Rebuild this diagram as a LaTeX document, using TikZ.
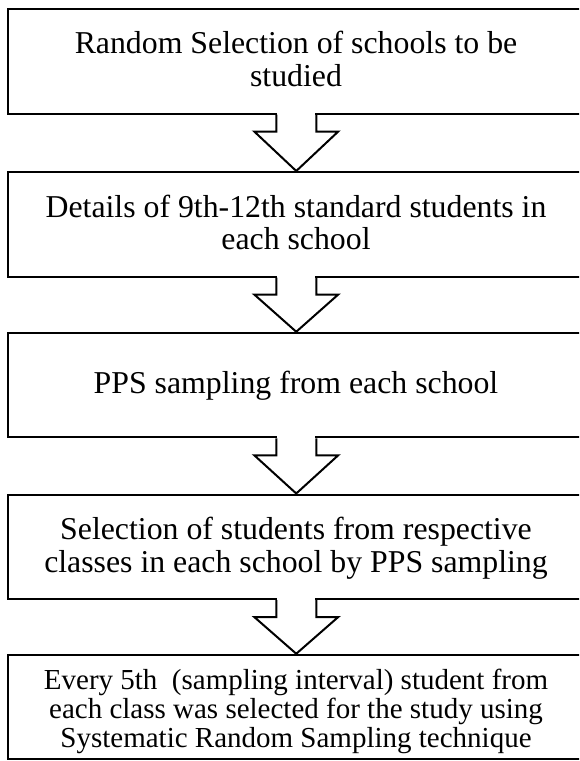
\documentclass[tikz,border=0pt]{standalone}
\usepackage{fontspec}
\setmainfont{Liberation Serif}
\usetikzlibrary{calc}
\newcommand\blockarrow[2]{%
  \fill[white] ($(#1.south)+(-19,-3)$) rectangle ($(#1.south)+(19,3)$);
  \draw[arrowline] ($(#1.south)+(-20,0)$) -- ++(0,17) -- ++(-22,0) -- (#2.north)
     -- ($(#1.south)+(42,17)$) -- ++(-22,0) -- ++(0,-17);
}
\begin{document}
\begin{tikzpicture}[x=1pt,y=-1pt,
  box/.style={draw=black, line width=2pt, rectangle, inner sep=0pt,
              minimum width=577.5pt, minimum height=104.5pt},
  big/.style={font=\fontsize{31.8}{33}\selectfont, inner sep=0pt, anchor=base},
  small/.style={font=\fontsize{29}{29.5}\selectfont, inner sep=0pt, anchor=base},
  arrowline/.style={draw=black, line width=2pt, line join=miter},
]
\clip (0,0) rectangle (579,761);
\fill[white] (0,0) rectangle (579,761);
\node[box] (b1) at (296.25,61.25) {};
\node[box] (b2) at (296.25,224.25) {};
\node[box] (b3) at (296.25,385) {};
\node[box] (b4) at (296.25,546.75) {};
\node[box] (b5) at (296.25,707) {};

\blockarrow{b1}{b2}
\blockarrow{b2}{b3}
\blockarrow{b3}{b4}
\blockarrow{b4}{b5}

\node[big] (t1a) at (296,53) {Random Selection of schools to be};
\node[big] (t1b) at (296,86) {studied};
\node[big] (t2a) at (296,217) {Details of 9th-12th standard students in};
\node[big] (t2b) at (296,249) {each school};
\node[big] (t3a) at (296,393) {PPS sampling from each school};
\node[big] (t4a) at (296,539) {Selection of students from respective};
\node[big] (t4b) at (296,572) {classes in each school by PPS sampling};
\node[small] (t5a) at (296,689) {Every 5th\ \ (sampling interval) student from};
\node[small] (t5b) at (296,718) {each class was selected for the study using};
\node[small] (t5c) at (296,747) {Systematic Random Sampling technique};
\end{tikzpicture}
\end{document}
